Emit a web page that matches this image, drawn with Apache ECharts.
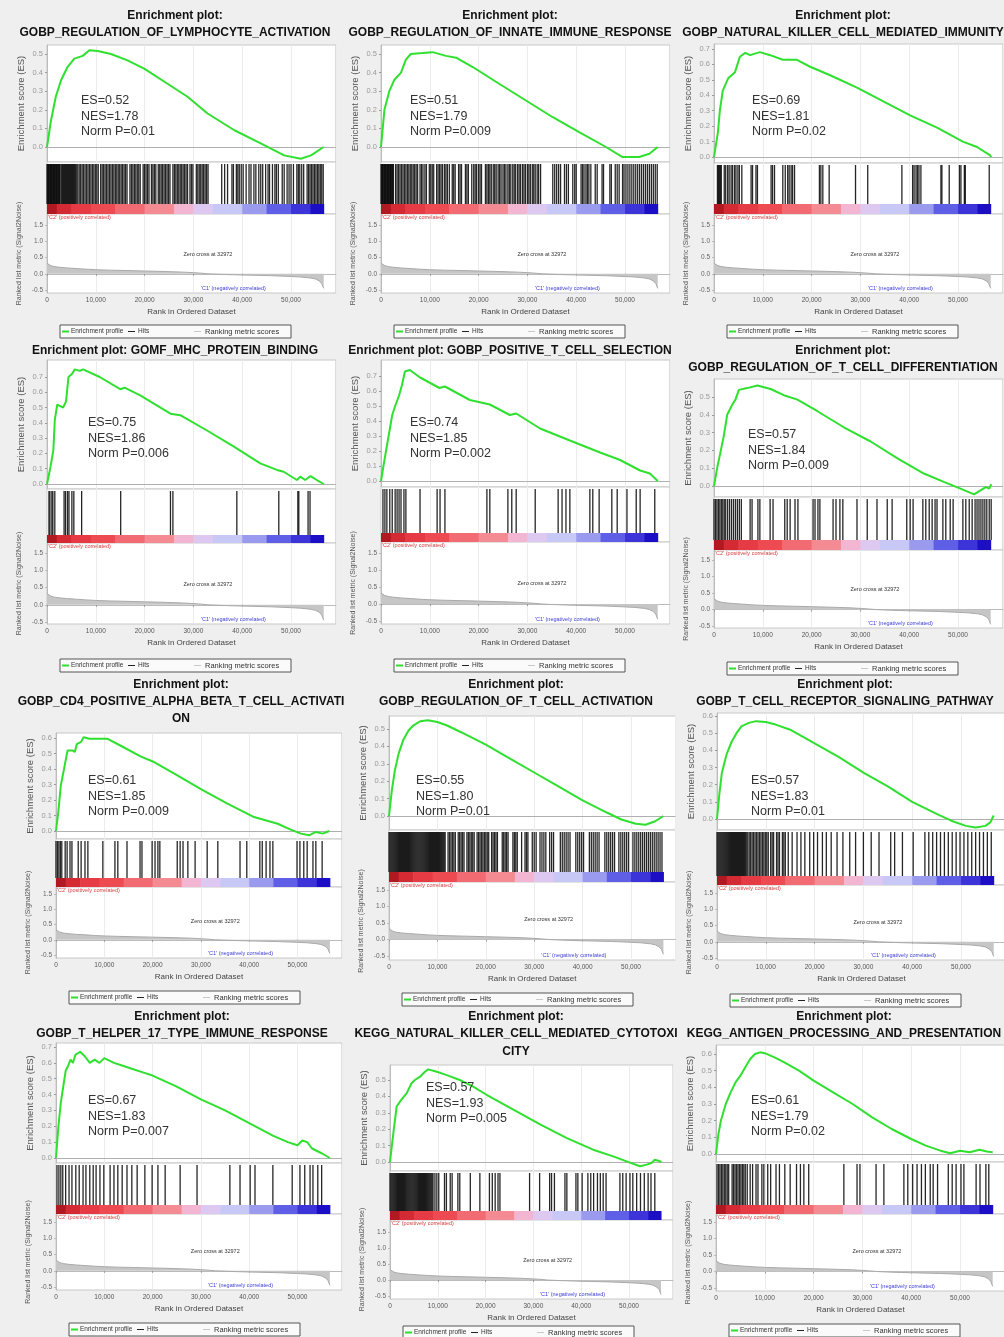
<!DOCTYPE html>
<html><head><meta charset="utf-8">
<script src="https://cdn.jsdelivr.net/npm/echarts@6/dist/echarts.min.js"></script>
<style>html,body{margin:0;padding:0;background:#efefef}#c{width:1004px;height:1337px}</style>
</head><body><div id="c"></div><script>
// ---------------- DATA ----------------
const TITLES = [
  ['Enrichment plot:', 'GOBP_REGULATION_OF_LYMPHOCYTE_ACTIVATION'],
  ['Enrichment plot:', 'GOBP_REGULATION_OF_INNATE_IMMUNE_RESPONSE'],
  ['Enrichment plot:', 'GOBP_NATURAL_KILLER_CELL_MEDIATED_IMMUNITY'],
  ['Enrichment plot: GOMF_MHC_PROTEIN_BINDING'],
  ['Enrichment plot: GOBP_POSITIVE_T_CELL_SELECTION'],
  ['Enrichment plot:', 'GOBP_REGULATION_OF_T_CELL_DIFFERENTIATION'],
  ['Enrichment plot:', 'GOBP_CD4_POSITIVE_ALPHA_BETA_T_CELL_ACTIVATI', 'ON'],
  ['Enrichment plot:', 'GOBP_REGULATION_OF_T_CELL_ACTIVATION'],
  ['Enrichment plot:', 'GOBP_T_CELL_RECEPTOR_SIGNALING_PATHWAY'],
  ['Enrichment plot:', 'GOBP_T_HELPER_17_TYPE_IMMUNE_RESPONSE'],
  ['Enrichment plot:', 'KEGG_NATURAL_KILLER_CELL_MEDIATED_CYTOTOXI', 'CITY'],
  ['Enrichment plot:', 'KEGG_ANTIGEN_PROCESSING_AND_PRESENTATION']
];
const ES_VALUES  = ['0.52','0.51','0.69','0.75','0.74','0.57','0.61','0.55','0.57','0.67','0.57','0.61'];
const NES_VALUES = ['1.78','1.79','1.81','1.86','1.85','1.84','1.85','1.80','1.83','1.83','1.93','1.79'];
const P_VALUES   = ['0.01','0.009','0.02','0.006','0.002','0.009','0.009','0.01','0.01','0.007','0.005','0.02'];
const ES_TICK_TOP = [0.5,0.5,0.7,0.7,0.7,0.5,0.6,0.5,0.6,0.7,0.5,0.6];

// running enrichment score: [rank (thousands), ES]
const ES_P1 = [[0,0],[0.8,0.14],[1.8,0.27],[2.9,0.36],[4.2,0.43],[5.6,0.475],[7.3,0.49],[8.7,0.52],[10.4,0.516],[13.1,0.5],[16.5,0.466],[20,0.42],[24.7,0.34],[28.8,0.27],[32.9,0.18],[38.4,0.09],[43.9,0.018],[48.6,-0.045],[52,-0.063],[54.1,-0.045],[56.7,0]];
const ES_P2 = [[0,0],[0.7,0.2],[1.7,0.3],[2.7,0.36],[4.1,0.4],[5.1,0.47],[6.1,0.5],[8.5,0.505],[10.6,0.51],[13.3,0.49],[15.4,0.48],[18.8,0.43],[24.2,0.34],[29.7,0.25],[35.2,0.16],[40.6,0.08],[46.1,0],[49.5,-0.054],[52.9,-0.054],[55,-0.036],[56.7,0]];
const ES_P3 = [[0,0],[0.8,0.16],[1.2,0.3],[1.8,0.43],[2.9,0.51],[4.3,0.55],[5.3,0.65],[6.4,0.675],[7.4,0.66],[9.4,0.68],[11.5,0.66],[14.1,0.63],[17,0.63],[19.7,0.585],[23.8,0.53],[29.3,0.45],[34.7,0.36],[40.2,0.27],[45.7,0.19],[51,0.1],[53.9,0.065],[56.6,0.01],[56.8,0]];
const ES_P4 = [[0,0],[0.7,0.11],[1.3,0.22],[1.6,0.42],[2.1,0.52],[3.3,0.5],[3.9,0.54],[4.4,0.7],[5.1,0.72],[5.7,0.75],[6.7,0.74],[7.4,0.75],[10.8,0.7],[15,0.62],[15.9,0.63],[19.1,0.58],[25.3,0.46],[27.3,0.45],[32.8,0.35],[38.3,0.245],[43.7,0.135],[47.1,0.092],[48.5,0.08],[51.2,0.026],[51.9,0.048],[52.9,0.026],[54,0.052],[55.3,0.026],[56.7,0]];
const ES_P5 = [[0,0],[0.6,0.12],[1.4,0.27],[2.3,0.44],[2.9,0.5],[3.7,0.57],[4.3,0.64],[4.9,0.73],[5.9,0.74],[8,0.69],[12,0.62],[13.1,0.63],[18.2,0.54],[22.3,0.51],[26.4,0.44],[27.7,0.45],[32.6,0.35],[38.7,0.27],[44.9,0.19],[49,0.14],[53.1,0.07],[55.1,0.05],[56.7,0]];
const ES_P6 = [[0,0],[0.7,0.108],[1.4,0.2],[2,0.28],[2.7,0.4],[3.8,0.46],[4.4,0.485],[5.1,0.54],[6.8,0.55],[8.9,0.565],[11.6,0.545],[14.3,0.51],[17.1,0.485],[21.2,0.42],[26.6,0.33],[32.1,0.25],[37.6,0.155],[43,0.07],[47.1,0.023],[50.5,-0.015],[53.3,-0.047],[54.6,-0.025],[55.7,-0.006],[56.4,-0.015],[56.8,0.01]];
const ES_P7 = [[0,0],[0.5,0.13],[1,0.295],[1.6,0.39],[2.4,0.52],[3.4,0.52],[3.9,0.51],[4.3,0.56],[5.2,0.575],[5.7,0.605],[6.9,0.595],[9.3,0.595],[10.7,0.595],[13.4,0.55],[17.6,0.48],[20.3,0.445],[24.5,0.37],[30,0.27],[35.5,0.176],[41,0.09],[45.9,0.047],[48.6,0.009],[50.7,-0.017],[52.4,-0.028],[53.8,-0.006],[55.2,-0.017],[56.6,0]];
const ES_P8 = [[0,0],[0.6,0.15],[1.2,0.26],[2,0.36],[3,0.44],[4,0.49],[5,0.52],[6.5,0.545],[8,0.55],[10,0.54],[12,0.52],[15,0.48],[20,0.41],[25,0.33],[30,0.25],[35,0.17],[40,0.09],[45,0.02],[48,-0.02],[51,-0.045],[53,-0.05],[55,-0.03],[56.7,0]];
const ES_P9 = [[0,0],[0.5,0.15],[1,0.27],[2,0.38],[3,0.45],[4,0.5],[5,0.54],[6.5,0.56],[8,0.57],[10,0.565],[12,0.55],[15,0.52],[20,0.44],[25,0.36],[30,0.27],[35,0.19],[40,0.1],[45,0.03],[48,-0.01],[51,-0.04],[53,-0.05],[55,-0.04],[56,-0.02],[56.7,0.02]];
const ES_P10 = [[0,0],[0.5,0.2],[1,0.35],[1.5,0.45],[2,0.55],[2.5,0.58],[3,0.62],[3.5,0.6],[4,0.65],[5,0.67],[6,0.64],[7,0.6],[8,0.62],[9,0.6],[10,0.63],[12,0.6],[14,0.58],[16,0.56],[18,0.54],[20,0.52],[25,0.45],[30,0.37],[35,0.3],[40,0.22],[45,0.14],[48,0.1],[50,0.08],[51,0.11],[52,0.1],[53,0.06],[55,0.03],[56.7,0]];
const ES_P11 = [[0,0],[0.7,0.176],[1.4,0.34],[2.4,0.38],[3.5,0.42],[4.5,0.48],[5.2,0.5],[6.3,0.52],[7.3,0.55],[8,0.565],[9.8,0.55],[11.9,0.53],[14.6,0.5],[17.4,0.46],[20.2,0.41],[25.8,0.32],[31.4,0.23],[37,0.146],[42.5,0.075],[46.7,0.034],[49.5,0.004],[52.3,-0.026],[53.7,-0.016],[54.7,-0.006],[55.4,0.014],[56.1,0.008],[56.8,0]];
const ES_P12 = [[0,0],[0.5,0.12],[1,0.2],[2,0.3],[3,0.37],[4,0.43],[5,0.47],[6,0.52],[7,0.57],[8,0.6],[9,0.61],[10,0.605],[12,0.58],[14,0.55],[17,0.5],[20,0.44],[24,0.37],[28,0.3],[32,0.22],[36,0.15],[40,0.09],[43,0.05],[46,0.02],[48,0.005],[50,0.02],[52,0.01],[54,0.025],[55.5,0.015],[56.7,0.01]];

// gene-set hit positions (rank, thousands)
const HITS_P1 = [0,0.15,0.3,0.45,0.6,0.75,0.9,1.05,1.2,1.35,1.5,1.65,1.8,1.95,2.1,2.25,2.4,2.55,2.7,3,3.2,3.4,3.6,3.8,4,4.2,4.4,4.6,4.8,5,5.2,5.4,5.6,5.8,6,6.3,6.6,6.9,7.2,7.5,7.8,8.1,8.4,8.7,9,9.3,9.6,9.9,10.2,10.5,11,11.3,11.6,11.9,12.2,12.5,12.8,13.1,13.4,13.7,14,14.3,14.6,14.9,15.2,15.5,15.8,16.1,16.4,17,17.3,17.6,17.9,18.2,18.5,18.8,19.1,19.7,20,20.3,20.6,20.9,21.4,21.7,22,22.3,22.8,23.1,23.4,23.7,24,24.3,24.6,24.9,25.2,25.8,26.1,26.4,26.7,27,27.3,27.6,27.9,28.2,28.5,28.8,29.3,29.6,29.9,30.6,30.9,31.2,31.5,31.8,32.1,32.4,32.7,33,35.8,36.4,37,37.9,38.2,38.8,39.1,39.4,39.8,40.2,40.8,41.4,41.8,42.4,42.8,43.4,43.8,44.2,44.8,45.3,45.6,46.2,46.7,47,47.4,48.2,48.6,49.2,49.6,50,50.5,51.2,51.5,51.8,52.2,52.6,53.3,53.6,53.9,54.2,54.5,54.8,55.1,55.4,55.7,56,56.3,56.6];
const HITS_P2 = [0,0.15,0.3,0.45,0.6,0.75,0.9,1.05,1.2,1.35,1.5,1.65,1.8,1.95,2.1,2.25,2.4,2.55,3,3.3,3.6,3.9,4.2,4.5,4.8,5.1,5.4,5.7,6,6.3,6.6,6.9,7.2,7.5,8,8.3,8.6,9,9.3,9.9,10.2,10.5,10.8,11.4,11.7,12,12.3,12.6,13,13.3,13.6,14,14.6,14.9,15.2,15.9,16.2,16.5,17.3,17.6,17.9,18.6,19,19.3,19.6,20,20.3,20.6,21.4,21.7,22,22.3,22.6,23,23.3,23.6,24,24.3,24.6,25,25.3,25.6,26,26.3,26.6,27,27.3,27.6,28,28.3,28.6,29,29.3,29.6,30,30.3,30.6,31,31.3,31.6,32,32.3,32.7,35.2,35.6,36,36.4,36.8,37.6,38,38.4,39.3,39.7,40,41,41.3,41.6,42,42.3,42.6,43,43.9,44.3,45.3,45.6,46.9,47.2,48,48.4,48.8,49.5,49.8,50.2,50.6,51,51.4,51.8,52.2,52.6,53,53.4,53.8,54.2,54.6,55,55.4,55.8,56.2,56.6];
const HITS_P3 = [0.7,0.9,1.1,1.3,1.5,2.1,2.4,2.8,3.1,3.5,3.8,4.2,4.5,4.9,5.2,5.7,7.6,7.9,8.6,8.9,11.7,12,12.4,14.1,14.6,15.1,15.4,15.8,16.1,16.5,21.6,21.9,22.3,23.6,29,31.5,38.5,40.7,41,41.4,41.7,42,42.4,46.5,46.7,48.2,50.3,50.6,51.3,51.5,56.4];
const HITS_P4 = [0.4,0.6,1,1.2,1.6,3.5,3.8,4.2,4.5,5.1,5.5,7.1,15.1,25.3,25.8,38.9,47.5,51.4,51.6,53.5,53.9];
const HITS_P5 = [0.4,0.8,1.2,1.8,2.3,2.9,3.3,3.7,4.1,4.7,5.1,8,11.5,12.1,13.1,21.7,22.3,26,26.8,27.7,31.6,36.3,37.1,37.9,38.7,42.8,43.4,44.7,47.3,48.4,50.4,52.3,53.1,56.1];
const HITS_P6 = [0,0.3,0.6,0.9,1.2,1.5,1.8,2.1,2.4,2.8,3.2,3.6,4,4.4,4.8,5.2,5.6,7.4,7.8,9,9.4,11.5,12.1,14.5,15,15.6,16.6,17.2,20.3,20.7,21.3,21.7,24.4,25,25.8,26.4,29.3,31.4,33.4,35.5,36.5,39.5,40.2,40.8,42.8,43.4,44.1,44.7,45.3,45.7,46.9,47.5,48.4,49,51,51.6,52.3,52.9,53.5,53.9,54.3,54.7,55.1,55.5,55.9,56.4,56.8];
const HITS_P7 = [0,0.3,0.6,0.9,1.2,1.9,2.3,2.9,3.3,4.6,5.2,6,6.6,9.7,12.2,12.8,14.7,17.4,17.8,19.9,20.5,21.1,21.5,25.1,25.7,26.3,27.3,28.8,31.3,33.5,38.1,39.5,42.2,42.7,43.5,44.3,44.9,49.9,50.5,51.3,52,53.2,53.8,55.1];
const HITS_P8 = [0,0.2,0.4,0.6,0.8,1,1.2,1.4,1.6,1.8,2,2.2,2.4,2.6,2.8,3,3.2,3.4,3.6,3.8,4,4.2,4.4,4.6,4.8,5,5.2,5.4,5.6,5.8,6,6.2,6.4,6.6,6.8,7,7.2,7.4,7.6,7.8,8,8.2,8.4,8.6,8.8,9,9.2,9.4,9.6,9.8,10,10.2,10.4,10.6,10.8,11,11.2,11.4,11.6,12.2,12.5,12.8,13.1,13.4,13.7,14.3,14.6,14.9,15.2,15.5,16.1,16.4,16.7,17,17.3,17.6,18.2,18.5,18.8,19.1,19.4,19.7,20,20.3,20.6,21.2,21.5,21.8,22.1,22.4,23.4,23.7,24,24.3,24.6,25.6,25.9,26.2,26.5,27.4,28.1,28.4,28.7,29.6,30,30.4,31.2,31.6,32,32.4,33.2,33.6,34,35.4,35.8,36.2,36.6,37,37.4,38.6,39,39.4,39.8,40.2,41.4,41.8,42.2,42.6,43,43.4,44.6,45,45.4,45.8,46.2,46.6,47.5,47.9,48.3,48.7,49.1,49.5,50.4,50.8,51.2,51.6,52,52.4,52.8,53.2,53.6,54,54.4,54.8,55.2,55.6,56,56.4];
const HITS_P9 = [0,0.2,0.4,0.6,0.8,1,1.2,1.4,1.6,1.8,2,2.2,2.4,2.6,2.8,3,3.2,3.4,3.6,3.8,4,4.2,4.4,4.6,4.8,5,5.2,5.4,5.6,5.8,6,6.3,6.6,6.9,7.2,7.5,7.8,8.1,8.4,8.7,9,9.3,9.6,9.9,10.2,10.5,11,11.3,11.6,12.2,12.5,12.8,13.4,13.7,14,14.6,15.4,16.4,17.2,18,19,19.8,20.6,21.6,22.4,23.4,24.6,25.8,27.2,28.4,30,31.6,33.2,35.6,36.4,38,40.2,42.6,43.4,44.2,45,45.8,46.6,47.4,48.2,49,49.8,50.6,51.4,52.2,53,53.8,54.6,55.4,56.2];
const HITS_P10 = [0.2,0.6,1,1.4,2,2.7,3.3,4.1,4.8,5.6,6.2,7,7.7,8.3,9.1,9.9,11.2,12,12.8,13.7,14.7,15.7,16.8,18.4,19.9,21.1,22.6,25.7,29.2,36,38.1,40.2,41.2,44.9,48.9,50.5,51.5,52.6,53.2,54.2,55];
const HITS_P11 = [0,0.2,0.4,0.6,0.8,1,1.2,1.4,1.6,1.8,2,2.2,2.4,2.6,2.8,3,3.2,3.4,3.6,3.8,4,4.2,4.4,4.6,4.8,5,5.2,5.4,5.6,5.8,6,6.2,6.4,6.6,6.8,7,7.2,7.4,7.6,7.8,8,8.2,8.4,8.6,8.8,9,9.4,9.8,10.2,11.4,11.8,12.6,13,14.2,14.6,16.8,18.8,20.8,21.4,22,22.6,23,29.2,31.3,33.4,33.8,34.4,36.6,37,38.9,39.3,40.2,41.4,42,42.6,43.4,44,44.6,45.2,48.1,48.7,49.4,50.2,50.8,51.6,52.4,53.2,54,54.6,55.4];
const HITS_P12 = [0.2,0.5,0.8,1.1,1.4,1.7,2,2.3,2.6,3.3,3.6,3.9,4.2,4.5,4.8,5.1,5.4,5.7,6,6.4,7,7.5,8.2,8.6,9.4,9.8,10.6,11.2,12.3,13,14.1,15.2,16.5,17.3,18,19,26.2,28.9,29.5,32.8,34.4,38.5,39.3,40.3,41.2,42.1,42.9,43.9,44.5,45.4,47.6,48.4,49.2,50.2,50.8,53.3,54.1,55.3,55.9];

// ranked list metric (Signal2Noise), shared by all panels: rank (thousands) and value
const METRIC_RANK  = [0,0.3,0.8,1.5,2.5,4,6,8,10,13,16,20,24,28,31,32.97,35,38,42,46,50,52,54,55,55.8,56.3,56.7];
const METRIC_VALUE = [0.32,0.28,0.25,0.22,0.2,0.18,0.16,0.14,0.125,0.11,0.1,0.085,0.07,0.05,0.025,0,-0.015,-0.03,-0.045,-0.06,-0.085,-0.1,-0.13,-0.16,-0.22,-0.3,-0.45];
// colour band boundaries of the ranked-list heat bar (rank, thousands)
const BAND_EDGES = [0,2,5,9,14,20,26,30,34,40,45,50,54,56.7];
const ZERO_CROSS = 32972;

// ---------------- STYLE / LAYOUT ----------------
const BAND_COLORS = ['#b01822','#d42a34','#e63a44','#ee4a52','#f26a72','#f48a92','#f2b6d2','#dcc8f0','#c8c8f6','#9a9aee','#5e5ee6','#3c34d8','#1c0ec4'];
const XMAX = 59.2;
const LAYOUT = [
 {x0:47, k:4.88, ty:[16,33],    cx:175, esTop:45,  esBot:162, zy:147, tY:54,  gT:204, gB:214, mB:293, m15:225, m05:290, leg:325, sx:81,  sy:101},
 {x0:381,k:4.88, ty:[16,33],    cx:510, esTop:45,  esBot:162, zy:147, tY:54,  gT:204, gB:214, mB:293, m15:225, m05:290, leg:325, sx:410, sy:101},
 {x0:714,k:4.88, ty:[16,33],    cx:843, esTop:44,  esBot:163, zy:157, tY:49,  gT:204, gB:214, mB:293, m15:225, m05:290, leg:325, sx:752, sy:101},
 {x0:47, k:4.88, ty:[351],      cx:175, esTop:360, esBot:489, zy:484, tY:377, gT:535, gB:543, mB:624, m15:553, m05:622, leg:659, sx:88,  sy:423},
 {x0:381,k:4.88, ty:[351],      cx:510, esTop:360, esBot:487, zy:481, tY:376, gT:533, gB:542, mB:624, m15:553, m05:621, leg:659, sx:410, sy:423},
 {x0:714,k:4.88, ty:[351,368],  cx:843, esTop:379, esBot:497, zy:486, tY:397, gT:540, gB:550, mB:628, m15:560, m05:626, leg:662, sx:748, sy:435},
 {x0:56, k:4.83, ty:[685,702,719],cx:181,esTop:733,esBot:839, zy:831, tY:738, gT:878, gB:887, mB:958, m15:894, m05:955, leg:991, sx:88,  sy:781},
 {x0:389,k:4.84, ty:[685,702],  cx:516, esTop:716, esBot:830, zy:816, tY:729, gT:872, gB:882, mB:960, m15:890, m05:956, leg:993, sx:416, sy:781},
 {x0:717,k:4.88, ty:[685,702],  cx:845, esTop:713, esBot:830, zy:819, tY:716, gT:876, gB:885, mB:960, m15:893, m05:958, leg:994, sx:751, sy:781},
 {x0:56, k:4.83, ty:[1017,1034],cx:182, esTop:1043,esBot:1163,zy:1158,tY:1047,gT:1205,gB:1214,mB:1290,m15:1222,m05:1287,leg:1323,sx:88,  sy:1101},
 {x0:390,k:4.78, ty:[1017,1034,1052],cx:516,esTop:1065,esBot:1171,zy:1162,tY:1080,gT:1211,gB:1220,mB:1299,m15:1232,m05:1296,leg:1326,sx:426,sy:1088},
 {x0:716,k:4.88, ty:[1017,1034],cx:844, esTop:1045,esBot:1162,zy:1154,tY:1054,gT:1205,gB:1214,mB:1291,m15:1222,m05:1288,leg:1324,sx:751, sy:1101}
];
const ES_CURVES = [ES_P1,ES_P2,ES_P3,ES_P4,ES_P5,ES_P6,ES_P7,ES_P8,ES_P9,ES_P10,ES_P11,ES_P12];
const HITS = [HITS_P1,HITS_P2,HITS_P3,HITS_P4,HITS_P5,HITS_P6,HITS_P7,HITS_P8,HITS_P9,HITS_P10,HITS_P11,HITS_P12];
const FONT = '"Liberation Sans", Arial, sans-serif';
const fmtRank = v => (Math.round(v*1000)).toLocaleString('en-US');
const GREEN = '#2fe02f';

const grids=[], xAxes=[], yAxes=[], series=[], graphic=[];
const metricData = METRIC_RANK.map((r,i)=>[r, METRIC_VALUE[i]]);
const bands = BAND_EDGES.slice(0,-1).map((s,i)=>[s, BAND_EDGES[i+1], i]);
const gridBase = {show:true, backgroundColor:'#fff', borderColor:'#c8c8c8', borderWidth:1, containLabel:false, outerBoundsMode:'none'};
const T = (x, y, text, font, fill, align) => graphic.push({type:'text', x, y, z:100, silent:true,
  style:{text, font, fill, textAlign:align||'left', textVerticalAlign:'middle'}});

LAYOUT.forEach((L, i) => {
  const width = L.k * XMAX;
  const hT = L.esBot;
  // --- ES grid
  const gi = grids.length;
  const esScale = (L.zy - L.tY) / ES_TICK_TOP[i];
  const esMax = (L.zy - L.esTop) / esScale, esMin = -(L.esBot - L.zy) / esScale;
  const esTicks = []; for (let t = 0; t <= ES_TICK_TOP[i] + 1e-9; t += 0.1) esTicks.push(+t.toFixed(1));
  grids.push(Object.assign({left:L.x0, top:L.esTop, width, height:L.esBot-L.esTop}, gridBase));
  xAxes.push({type:'value', gridIndex:gi, min:0, max:XMAX, interval:10, axisLabel:{show:false}, axisTick:{show:false}, axisLine:{show:false},
    splitLine:{show:true, lineStyle:{color:'#ececec', width:1}}});
  yAxes.push({type:'value', gridIndex:gi, min:esMin, max:esMax, name:'Enrichment score (ES)', nameLocation:'middle', nameGap:21,
    nameTextStyle:{fontSize:9.5, color:'#555', fontFamily:FONT},
    axisLine:{show:true, lineStyle:{color:'#bbb'}}, axisTick:{show:true, length:2, customValues:esTicks, lineStyle:{color:'#999'}},
    axisLabel:{customValues:esTicks, fontSize:7.5, color:'#9a9a9a', margin:4, fontFamily:FONT, formatter:v=>v.toFixed(1)},
    splitLine:{show:false}});
  series.push({type:'line', xAxisIndex:gi, yAxisIndex:gi, data:ES_CURVES[i], showSymbol:false, silent:true, animation:false,
    lineStyle:{color:GREEN, width:2}, itemStyle:{color:GREEN}, z:5,
    markLine:{silent:true, symbol:'none', label:{show:false}, lineStyle:{color:'#b0b0b0', type:'solid', width:1}, data:[{yAxis:0}]}});
  // --- hits grid
  const hi = grids.length;
  const g = (L.gB - L.gT) / (L.gB - hT);
  grids.push(Object.assign({left:L.x0, top:hT, width, height:L.gB-hT}, gridBase));
  xAxes.push({type:'value', gridIndex:hi, min:0, max:XMAX, interval:10, axisLabel:{show:false}, axisTick:{show:false}, axisLine:{show:false},
    splitLine:{show:true, lineStyle:{color:'#ececec'}}});
  yAxes.push({type:'value', gridIndex:hi, min:0, max:1, show:false, splitLine:{show:false}});
  series.push({type:'custom', xAxisIndex:hi, yAxisIndex:hi, data:HITS[i].map(v=>[v]), silent:true, animation:false,
    renderItem:(p, api)=>{ const a=api.coord([api.value(0),1]), b=api.coord([api.value(0),g]);
      return {type:'line', shape:{x1:a[0],y1:a[1]+2,x2:b[0],y2:b[1]}, style:{stroke:'#000', lineWidth:1.3, opacity:0.85}}; }});
  series.push({type:'custom', xAxisIndex:hi, yAxisIndex:hi, data:bands, silent:true, animation:false,
    renderItem:(p, api)=>{ const a=api.coord([api.value(0),g]), b=api.coord([api.value(1),0]);
      return {type:'rect', shape:{x:a[0], y:a[1], width:b[0]-a[0]+0.5, height:b[1]-a[1]}, style:{fill:BAND_COLORS[api.value(2)]}}; }});
  // --- metric grid
  const mi = grids.length;
  const mScale = (L.m05 - L.m15) / 2, mZero = L.m15 + 1.5*mScale;
  const mMax = (mZero - L.gB) / mScale, mMin = -(L.mB - mZero) / mScale;
  grids.push(Object.assign({left:L.x0, top:L.gB, width, height:L.mB-L.gB}, gridBase));
  xAxes.push({type:'value', gridIndex:mi, min:0, max:XMAX, interval:10, name:'Rank in Ordered Dataset', nameLocation:'middle', nameGap:15,
    nameTextStyle:{fontSize:8, color:'#444', fontFamily:FONT},
    axisLine:{show:true, lineStyle:{color:'#bbb'}}, axisTick:{show:true, length:2, lineStyle:{color:'#999'}},
    axisLabel:{fontSize:6.5, color:'#555', margin:4, showMaxLabel:false, fontFamily:FONT, formatter:v=>fmtRank(v)},
    splitLine:{show:true, lineStyle:{color:'#ececec'}}});
  yAxes.push({type:'value', gridIndex:mi, min:mMin, max:mMax, name:'Ranked list metric (Signal2Noise)', nameLocation:'middle', nameGap:24,
    nameTextStyle:{fontSize:7, color:'#555', fontFamily:FONT},
    axisLine:{show:true, lineStyle:{color:'#bbb'}}, axisTick:{show:true, length:2, customValues:[-0.5,0,0.5,1,1.5]},
    axisLabel:{customValues:[-0.5,0,0.5,1,1.5], fontSize:6.5, color:'#666', margin:4, fontFamily:FONT, formatter:v=>v.toFixed(1)},
    splitLine:{show:false}});
  series.push({type:'line', xAxisIndex:mi, yAxisIndex:mi, data:metricData, showSymbol:false, silent:true, animation:false,
    lineStyle:{color:'#aaaaaa', width:1}, areaStyle:{color:'#c6c6c6', opacity:1, origin:0}});
  // --- texts
  TITLES[i].forEach((t, j) => T(L.cx, L.ty[j], t, 'bold 12px '+FONT, '#111', 'center'));
  ['ES='+ES_VALUES[i], 'NES='+NES_VALUES[i], 'Norm P='+P_VALUES[i]].forEach((t, j) => T(L.sx, L.sy + j*15.5, t, '12.5px '+FONT, '#333'));
  const px = r => L.x0 + r*L.k, py = v => mZero - v*mScale;
  T(L.x0+1, L.gB+3.5, "'C2' (positively correlated)", '5.5px '+FONT, '#d83c3c');
  T(px(ZERO_CROSS/1000), py(0.6), 'Zero cross at '+ZERO_CROSS, '5.5px '+FONT, '#333', 'center');
  T(px(38.2), L.mB-5, "'C1' (negatively correlated)", '5.5px '+FONT, '#3c3cd8', 'center');
  // legend
  const bx = L.x0 + 13, by = L.leg;
  graphic.push({type:'rect', z:99, shape:{x:bx, y:by, width:231, height:13}, style:{fill:'#fafafa', stroke:'#555', lineWidth:1}, silent:true});
  graphic.push({type:'line', z:100, shape:{x1:bx+2, y1:by+6.5, x2:bx+9, y2:by+6.5}, style:{stroke:GREEN, lineWidth:2}, silent:true});
  T(bx+11, by+6.5, 'Enrichment profile', '6.5px '+FONT, '#333');
  graphic.push({type:'line', z:100, shape:{x1:bx+68, y1:by+6.5, x2:bx+75, y2:by+6.5}, style:{stroke:'#222', lineWidth:1}, silent:true});
  T(bx+78, by+6.5, 'Hits', '6.5px '+FONT, '#333');
  graphic.push({type:'line', z:100, shape:{x1:bx+134, y1:by+6.5, x2:bx+141, y2:by+6.5}, style:{stroke:'#c8c8c8', lineWidth:1}, silent:true});
  T(bx+145, by+6.5, 'Ranking metric scores', '7.5px '+FONT, '#333');
});

const chart = echarts.init(document.getElementById('c'), null, {renderer:'canvas'});
chart.setOption({backgroundColor:'#efefef', animation:false, grid:grids, xAxis:xAxes, yAxis:yAxes, series, graphic});
</script></body></html>
